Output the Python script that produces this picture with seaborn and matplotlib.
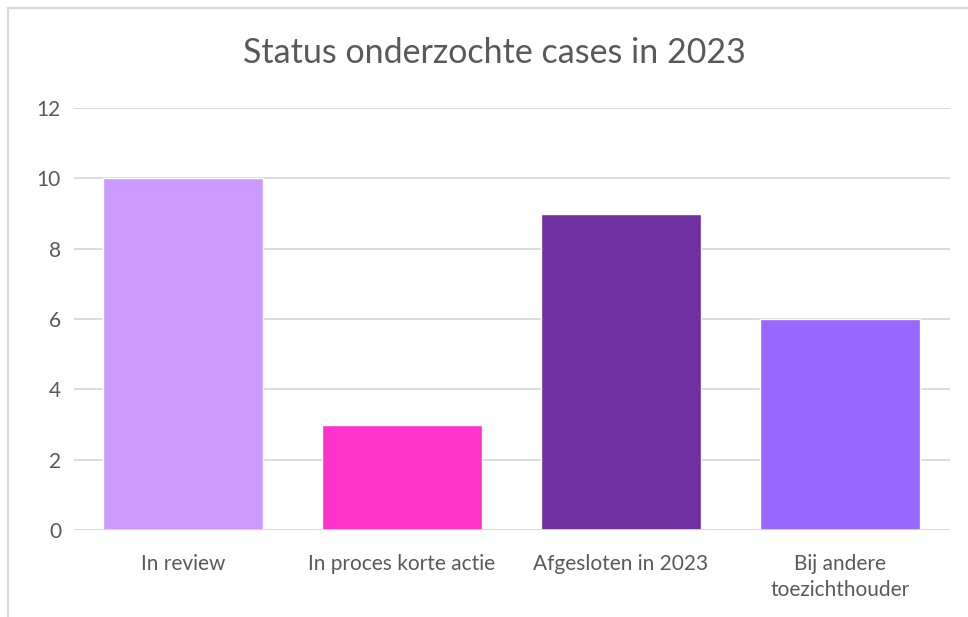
import matplotlib
matplotlib.use("Agg")
import matplotlib.pyplot as plt
import seaborn as sns
import pandas as pd
from matplotlib.patches import Rectangle

categories = ["In review", "In proces korte actie", "Afgesloten in 2023", "Bij andere\ntoezichthouder"]
values = [10, 3, 9, 6]
colors = ["#CC99FF", "#FF33CC", "#7030A0", "#9966FF"]
title = "Status onderzochte cases in 2023"

sns.set_theme(style="white")
plt.rcParams['font.family'] = ['Lato', 'DejaVu Sans']

W, H = 968, 617
fig = plt.figure(figsize=(W / 100, H / 100), dpi=100)
ax = fig.add_axes([73.5 / W, 1 - 530 / H, (949.5 - 73.5) / W, (530 - 108) / H])

df = pd.DataFrame({"cat": categories, "val": values})
sns.barplot(data=df, x="cat", y="val", hue="cat", palette=colors, legend=False,
            width=0.735, ax=ax, zorder=3, saturation=1)

ax.set_ylim(0, 12)
ax.set_yticks(range(0, 13, 2))
ax.yaxis.grid(True, color="#D9D9D9", linewidth=1.3, zorder=0)
ax.set_axisbelow(True)
for s in ax.spines.values():
    s.set_visible(False)
ax.axhline(0, color="#D9D9D9", linewidth=1.3, zorder=4)
ax.set_xlabel("")
ax.set_ylabel("")
ax.tick_params(axis="both", length=0, labelsize=15, labelcolor="#595959")
ax.tick_params(axis="y", pad=9)
ax.tick_params(axis="x", pad=17)
for lbl in ax.get_xticklabels():
    lbl.set_linespacing(1.4)

fig.text(494 / W, 1 - 53 / H, title, ha="center", va="center", fontsize=24.5, color="#595959")

# chart frame
fig.patches.append(Rectangle((8 / W, -0.05), 1.0, 1 - 8 / H + 0.05, transform=fig.transFigure,
                             fill=False, edgecolor="#D9D9D9", linewidth=1.5))

fig.savefig("out.png", dpi=100)
